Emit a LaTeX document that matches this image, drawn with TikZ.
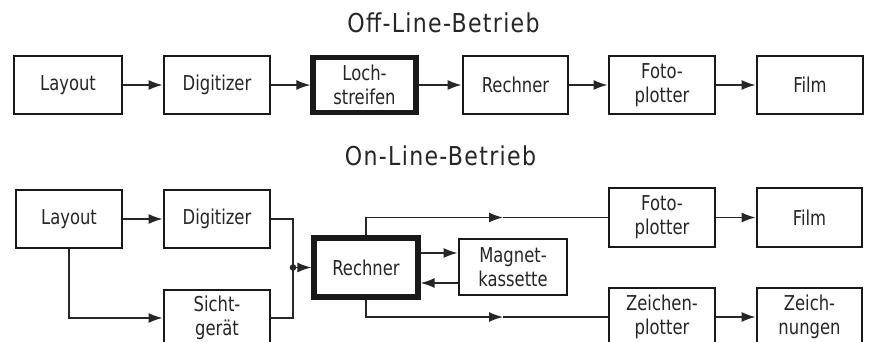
\documentclass[tikz,border=0pt]{standalone}
\usepackage{fontspec}
\setmainfont{DejaVu Sans}[FakeStretch=0.8]
\newfontfamily\titlefont{DejaVu Sans}[FakeStretch=0.85,LetterSpace=5]
\usetikzlibrary{arrows.meta}
\tikzset{
  blk/.style={draw=black!90, line width=2.8pt, inner sep=0pt, align=center,
    text=black!85, font=\fontsize{20.5}{24}\selectfont},
  thickblk/.style={blk, line width=5.2pt},
  conn/.style={draw=black!85, line width=1.5pt},
  arr/.style={conn, -{Latex[length=14pt,width=10pt]}},
  ttl/.style={anchor=base, text=black!85, font=\titlefont\fontsize{26}{30}\selectfont, inner sep=0pt}
}
\begin{document}
\begin{tikzpicture}[x=1pt,y=-1pt]
\useasboundingbox (0,0) rectangle (871,342);
\clip (0,0) rectangle (871,342);
\fill[white] (0,0) rectangle (871,342);

% Off-line row
\node[ttl] (T1) at (443.5,33) {Off-Line-Betrieb};
\node[blk, minimum width=108pt, minimum height=58pt] (L1) at (68,85) {Layout};
\node[blk, minimum width=106pt, minimum height=58pt] (D1) at (217,85) {Digitizer};
\node[thickblk, minimum width=103pt, minimum height=55pt] (S1) at (364.5,85) {Loch-\\streifen};
\node[blk, minimum width=105pt, minimum height=58pt] (R1) at (515.5,85) {Rechner};
\node[blk, minimum width=106pt, minimum height=58pt] (F1) at (662,85) {Foto-\\plotter};
\node[blk, minimum width=106pt, minimum height=58pt] (M1) at (810,85) {Film};

\draw[arr] (L1.east) -- (D1.west);
\draw[arr] (D1.east) -- (S1.west);
\draw[arr] (S1.east) -- (R1.west);
\draw[arr] (R1.east) -- (F1.west);
\draw[arr] (F1.east) -- (M1.west);

% On-line row
\node[ttl] (T2) at (440.5,166) {On-Line-Betrieb};
\node[blk, minimum width=106pt, minimum height=58pt] (L2) at (69,219) {Layout};
\node[blk, minimum width=106pt, minimum height=58pt] (D2) at (217,219) {Digitizer};
\node[blk, minimum width=106pt, minimum height=56pt] (G2) at (217,318) {Sicht-\\gerät};
\node[thickblk, minimum width=104pt, minimum height=59pt] (R2) at (366,267.5) {Rechner};
\node[blk, minimum width=108pt, minimum height=56pt] (K2) at (513,267) {Magnet-\\kassette};
\node[blk, minimum width=106pt, minimum height=59pt] (F2) at (662,217.5) {Foto-\\plotter};
\node[blk, minimum width=105pt, minimum height=59pt] (M2) at (809.5,217.5) {Film};
\node[blk, minimum width=106pt, minimum height=58pt] (Z2) at (662,317) {Zeichen-\\plotter};
\node[blk, minimum width=105pt, minimum height=58pt] (N2) at (809.5,317) {Zeich-\\nungen};

\coordinate (J) at (293,267.5);
\coordinate (A1) at (503,217.5);
\coordinate (A2) at (503,317);

\draw[arr] (L2.east) -- (D2.west);
\draw[arr] (L2.south) |- (G2.west);
\draw[conn] (D2.east) -| (J);
\draw[conn] (G2.east) -| (J);
\fill[black!85] (J) circle (3.3pt);
\draw[arr] (J) -- (R2.west);
\draw[arr] (R2.north) |- (A1);
\draw[conn] (A1) -- (F2.west);
\draw[arr] (R2.south) |- (A2);
\draw[conn] (A2) -- (Z2.west);
\draw[arr] ([yshift=14.5pt]R2.east) -- ([yshift=14.5pt]R2.east -| K2.west);
\draw[arr] ([yshift=-15.5pt]R2.east -| K2.west) -- ([yshift=-15.5pt]R2.east);
\draw[arr] (F2.east) -- (M2.west);
\draw[arr] (Z2.east) -- (N2.west);
\end{tikzpicture}
\end{document}
